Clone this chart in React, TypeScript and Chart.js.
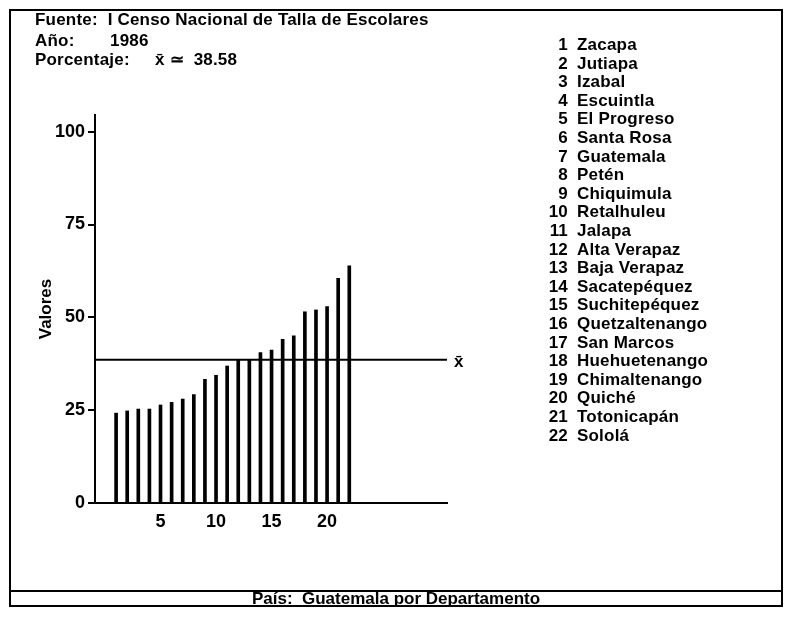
import React, { useEffect, useRef } from 'react';
import { Chart, registerables } from 'chart.js';

Chart.register(...registerables);

const categories = [
  'Zacapa', 'Jutiapa', 'Izabal', 'Escuintla', 'El Progreso', 'Santa Rosa',
  'Guatemala', 'Petén', 'Chiquimula', 'Retalhuleu', 'Jalapa', 'Alta Verapaz',
  'Baja Verapaz', 'Sacatepéquez', 'Suchitepéquez', 'Quetzaltenango', 'San Marcos',
  'Huehuetenango', 'Chimaltenango', 'Quiché', 'Totonicapán', 'Sololá',
];
const values = [
  24.2, 24.8, 25.3, 25.3, 26.4, 27.1, 28.0, 29.2, 33.3, 34.4, 36.9,
  38.7, 38.7, 40.5, 41.2, 44.1, 45.0, 51.5, 52.0, 52.9, 60.5, 63.9,
];
const meanValue = 38.58;
const yTicks = [0, 25, 50, 75, 100];
const xTicks = [5, 10, 15, 20];

const FONT = "'Liberation Sans', Arial, Helvetica, sans-serif";
const X_MIN = -0.9;
const X_MAX = 30.8;
const Y_MAX = 104.5;

const abs = (left: number, top: number, extra: React.CSSProperties = {}): React.CSSProperties => ({
  position: 'absolute', left, top, whiteSpace: 'pre', ...extra,
});

export default function App() {
  const ref = useRef<HTMLCanvasElement>(null);

  useEffect(() => {
    const chart = new Chart(ref.current as HTMLCanvasElement, {
      type: 'bar',
      data: {
        datasets: [
          {
            type: 'bar',
            data: values.map((v, i) => ({ x: i + 1, y: v })),
            backgroundColor: '#000',
            borderWidth: 0,
            barThickness: 3,
          } as any,
          {
            type: 'line',
            data: [{ x: X_MIN, y: meanValue }, { x: X_MAX, y: meanValue }],
            borderColor: '#000',
            borderWidth: 2,
            pointRadius: 0,
            fill: false,
          } as any,
        ],
      },
      options: {
        responsive: false,
        animation: false,
        layout: { padding: { left: 32, top: 115, right: 343, bottom: 78 } },
        plugins: { legend: { display: false }, tooltip: { enabled: false } },
        scales: {
          x: {
            type: 'linear',
            min: X_MIN,
            max: X_MAX,
            offset: false,
            afterBuildTicks: (scale: any) => { scale.ticks = xTicks.map((v) => ({ value: v })); },
            afterFit: (scale: any) => { scale.height = 40; },
            grid: { display: false, drawTicks: false },
            border: { display: true, color: '#000', width: 2 },
            ticks: {
              padding: 8,
              color: '#000',
              font: { family: FONT, size: 18, weight: 'bold' },
              maxRotation: 0,
              autoSkip: false,
            },
          },
          y: {
            type: 'linear',
            min: 0,
            max: Y_MAX,
            afterBuildTicks: (scale: any) => { scale.ticks = yTicks.map((v) => ({ value: v })); },
            afterFit: (scale: any) => { scale.width = 63; },
            grid: { drawOnChartArea: false, drawTicks: true, tickLength: 7, color: '#000', lineWidth: 2 },
            border: { display: true, color: '#000', width: 2 },
            ticks: {
              padding: 3,
              color: '#000',
              font: { family: FONT, size: 18, weight: 'bold' },
            },
            title: {
              display: true,
              text: 'Valores',
              color: '#000',
              font: { family: FONT, size: 17, weight: 'bold' },
            },
          },
        },
      } as any,
    });
    return () => chart.destroy();
  }, []);

  const headerStyle: React.CSSProperties = { fontSize: 17, lineHeight: '20px', letterSpacing: '0.2px' };
  const listStyle: React.CSSProperties = { fontSize: 17, lineHeight: '19px', letterSpacing: '0.2px' };

  return (
    <div style={{ position: 'absolute', left: 0, top: 0, width: 790, height: 621, background: '#fff', color: '#000', fontFamily: FONT, fontWeight: 'bold' }}>
      <canvas ref={ref} width={790} height={621} style={{ position: 'absolute', left: 0, top: 0, width: 790, height: 621 }} />

      {/* frame */}
      <div style={{ position: 'absolute', left: 9, top: 9, width: 774, height: 598, border: '2px solid #000', boxSizing: 'border-box' }} />
      <div style={{ position: 'absolute', left: 9, top: 590, width: 774, height: 2, background: '#000' }} />
      <div style={abs(9, 590, { width: 774, textAlign: 'center', fontSize: 17, lineHeight: '18px' })}>País:  Guatemala por Departamento</div>

      {/* header */}
      <div style={abs(35, 10, headerStyle)}>Fuente:  I Censo Nacional de Talla de Escolares</div>
      <div style={abs(35, 31, headerStyle)}>Año:</div>
      <div style={abs(110, 31, headerStyle)}>1986</div>
      <div style={abs(35, 50, headerStyle)}>Porcentaje:</div>
      <div style={abs(155, 50, headerStyle)}>x̄ ≃  {meanValue.toFixed(2)}</div>

      {/* mean label */}
      <div style={abs(454, 352, { fontSize: 17, lineHeight: '20px' })}>x̄</div>

      {/* category list */}
      {categories.map((name, i) => (
        <React.Fragment key={name}>
          <div style={abs(528, 35 + i * 18.6, { width: 40, textAlign: 'right', ...listStyle })}>{i + 1}</div>
          <div style={abs(577, 35 + i * 18.6, listStyle)}>{name}</div>
        </React.Fragment>
      ))}
    </div>
  );
}
